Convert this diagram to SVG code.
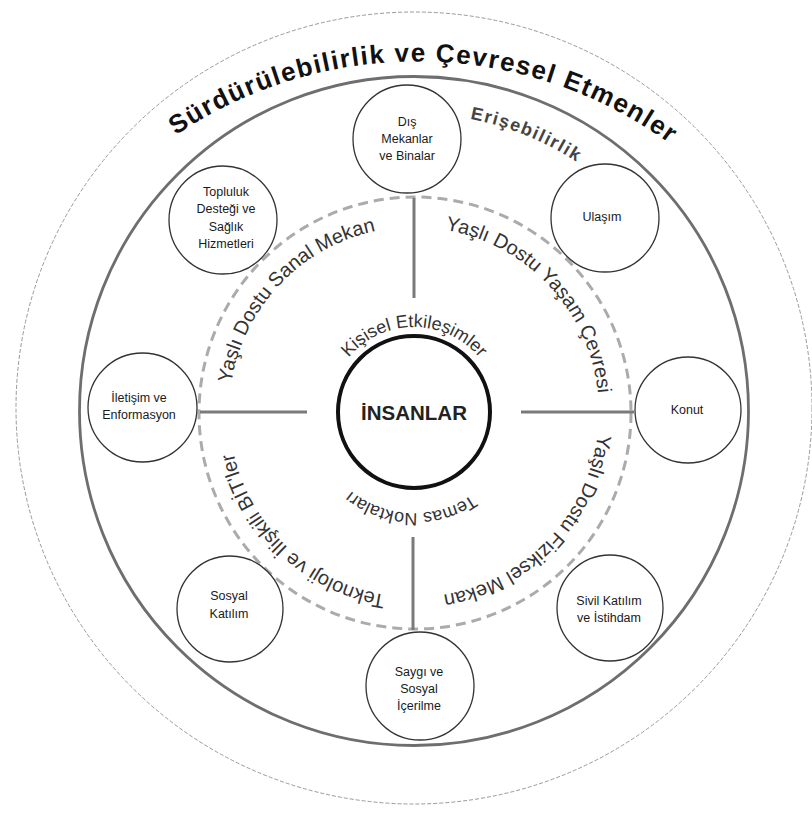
<svg xmlns="http://www.w3.org/2000/svg" width="812" height="813" viewBox="0 0 812 813">
<style>
.node circle{fill:#fff;stroke:#333;stroke-width:1.3}
.node text{font-family:"Liberation Sans",Arial,sans-serif;font-size:12.5px;fill:#1a1a1a;text-anchor:middle}
.conn line{stroke:#7a7a7a;stroke-width:3}
.arc{font-family:"Liberation Sans",Arial,sans-serif;fill:#333;text-anchor:middle}
</style>
<defs>
<path id="pTitle" d="M-12.9,478.5 A430,430 0 0 1 846.9,493.5"/>
<path id="pErisim" d="M133.1,298.5 A303,303 0 0 1 694.9,525.5"/>
<path id="pSanal" d="M286.65,546.2 A185,185 0 0 1 541.35,277.8"/>
<path id="pYasam" d="M287.83,276.7 A185,185 0 0 1 540.17,547.3"/>
<path id="pFizik" d="M542.5,278.9 A185,185 0 0 1 285.5,545.1"/>
<path id="pTekno" d="M549.3,538.2 A185,185 0 0 1 278.7,285.8"/>
<path id="pKisisel" d="M329,412 A85,85 0 0 1 499,412"/>
<path id="pTemas" d="M514.94,415.52 A101,101 0 0 1 313.06,408.48"/>
</defs>
<rect width="812" height="813" fill="#fff"/>
<g id="rings">
<ellipse cx="414" cy="408" rx="398" ry="396" fill="none" stroke="#999" stroke-width="1" stroke-dasharray="4 2"/>
<circle cx="414" cy="411" r="334.5" fill="none" stroke="#6e6e6e" stroke-width="2.8"/>
<circle cx="415" cy="413" r="216" fill="none" stroke="#ababab" stroke-width="3" stroke-dasharray="10 6"/>
</g>
<g id="connectors" class="conn">
<line x1="414" y1="198" x2="414" y2="298"/>
<line x1="200" y1="412" x2="307" y2="412"/>
<line x1="521" y1="412" x2="634" y2="412"/>
<line x1="413" y1="537" x2="413" y2="630"/>
</g>
<g id="center">
<circle cx="414" cy="412" r="76" fill="#fff" stroke="#111" stroke-width="4"/>
<text x="414" y="420" font-family="'Liberation Sans',Arial,sans-serif" font-size="20.5" font-weight="bold" fill="#222" text-anchor="middle">İNSANLAR</text>
</g>
<g id="labels">
<text class="arc" font-size="26" font-weight="bold" letter-spacing="1.5" style="fill:#111"><textPath href="#pTitle" startOffset="50%">Sürdürülebilirlik ve Çevresel Etmenler</textPath></text>
<text class="arc" font-size="18" font-weight="bold" letter-spacing="1.5" style="fill:#444"><textPath href="#pErisim" startOffset="50%">Erişebilirlik</textPath></text>
<text class="arc" font-size="20"><textPath href="#pSanal" startOffset="50%">Yaşlı Dostu Sanal Mekan</textPath></text>
<text class="arc" font-size="20"><textPath href="#pYasam" startOffset="50%">Yaşlı Dostu Yaşam Çevresi</textPath></text>
<text class="arc" font-size="20"><textPath href="#pFizik" startOffset="50%">Yaşlı Dostu Fiziksel Mekan</textPath></text>
<text class="arc" font-size="20"><textPath href="#pTekno" startOffset="50%">Teknoloji ve İlişkili BİT'ler</textPath></text>
<text class="arc" font-size="18"><textPath href="#pKisisel" startOffset="50%">Kişisel Etkileşimler</textPath></text>
<text class="arc" font-size="18"><textPath href="#pTemas" startOffset="50%">Temas Noktaları</textPath></text>
</g>
<g id="node-dis" class="node">
<circle cx="407" cy="139" r="54"/>
<text x="407" y="126">Dış</text>
<text x="407" y="143">Mekanlar</text>
<text x="407" y="160">ve Binalar</text>
</g>
<g id="node-ulasim" class="node">
<circle cx="605" cy="218" r="54"/>
<text x="602" y="221">Ulaşım</text>
</g>
<g id="node-konut" class="node">
<circle cx="688" cy="410" r="53"/>
<text x="687" y="414">Konut</text>
</g>
<g id="node-sivil" class="node">
<circle cx="610" cy="608" r="53"/>
<text x="609" y="605">Sivil Katılım</text>
<text x="609" y="622">ve İstihdam</text>
</g>
<g id="node-saygi" class="node">
<circle cx="420" cy="686" r="54"/>
<text x="419" y="676">Saygı ve</text>
<text x="419" y="693">Sosyal</text>
<text x="419" y="710">İçerilme</text>
</g>
<g id="node-sosyal" class="node">
<circle cx="230" cy="609" r="53"/>
<text x="229" y="600">Sosyal</text>
<text x="229" y="618">Katılım</text>
</g>
<g id="node-iletisim" class="node">
<circle cx="142.5" cy="407.5" r="54.5"/>
<text x="139" y="402">İletişim ve</text>
<text x="139" y="419">Enformasyon</text>
</g>
<g id="node-topluluk" class="node">
<circle cx="223" cy="220" r="54"/>
<text x="226" y="196">Topluluk</text>
<text x="226" y="213">Desteği ve</text>
<text x="226" y="231">Sağlık</text>
<text x="226" y="248">Hizmetleri</text>
</g>
</svg>
